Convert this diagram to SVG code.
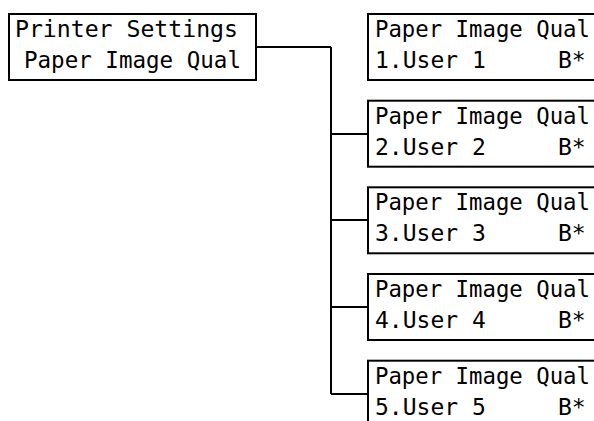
<svg xmlns="http://www.w3.org/2000/svg" width="594" height="421" viewBox="0 0 594 421">
<style>
.box{fill:#fff;stroke:#000;stroke-width:2}
.ln{fill:none;stroke:#000;stroke-width:2}
text{font-family:"DejaVu Sans Mono","Liberation Mono",monospace;font-size:23px;fill:#000}
</style>
<rect width="594" height="421" fill="#fff"/>
<g id="connectors">
<path class="ln" d="M256 47H331M331 47V394M331 134H368M331 220H368M331 307H368M331 394H368"/>
</g>
<g id="root">
<rect class="box" x="9" y="14" width="247" height="66"/>
<text x="15" y="37" textLength="223" lengthAdjust="spacingAndGlyphs">Printer Settings</text>
<text x="24" y="68" textLength="217" lengthAdjust="spacingAndGlyphs">Paper Image Qual</text>
</g>
<g id="user1">
<rect class="box" x="368" y="14" width="260" height="66"/>
<text x="375" y="37" textLength="215" lengthAdjust="spacingAndGlyphs">Paper Image Qual</text>
<text y="68"><tspan x="375">1.User 1</tspan><tspan x="558">B*</tspan></text>
</g>
<g id="user2">
<rect class="box" x="368" y="100.7" width="260" height="66"/>
<text x="375" y="123.7" textLength="215" lengthAdjust="spacingAndGlyphs">Paper Image Qual</text>
<text y="154.7"><tspan x="375">2.User 2</tspan><tspan x="558">B*</tspan></text>
</g>
<g id="user3">
<rect class="box" x="368" y="187.3" width="260" height="66"/>
<text x="375" y="210.3" textLength="215" lengthAdjust="spacingAndGlyphs">Paper Image Qual</text>
<text y="241.3"><tspan x="375">3.User 3</tspan><tspan x="558">B*</tspan></text>
</g>
<g id="user4">
<rect class="box" x="368" y="274" width="260" height="66"/>
<text x="375" y="297" textLength="215" lengthAdjust="spacingAndGlyphs">Paper Image Qual</text>
<text y="328"><tspan x="375">4.User 4</tspan><tspan x="558">B*</tspan></text>
</g>
<g id="user5">
<rect class="box" x="368" y="360.7" width="260" height="66"/>
<text x="375" y="383.7" textLength="215" lengthAdjust="spacingAndGlyphs">Paper Image Qual</text>
<text y="414.7"><tspan x="375">5.User 5</tspan><tspan x="558">B*</tspan></text>
</g>
</svg>
